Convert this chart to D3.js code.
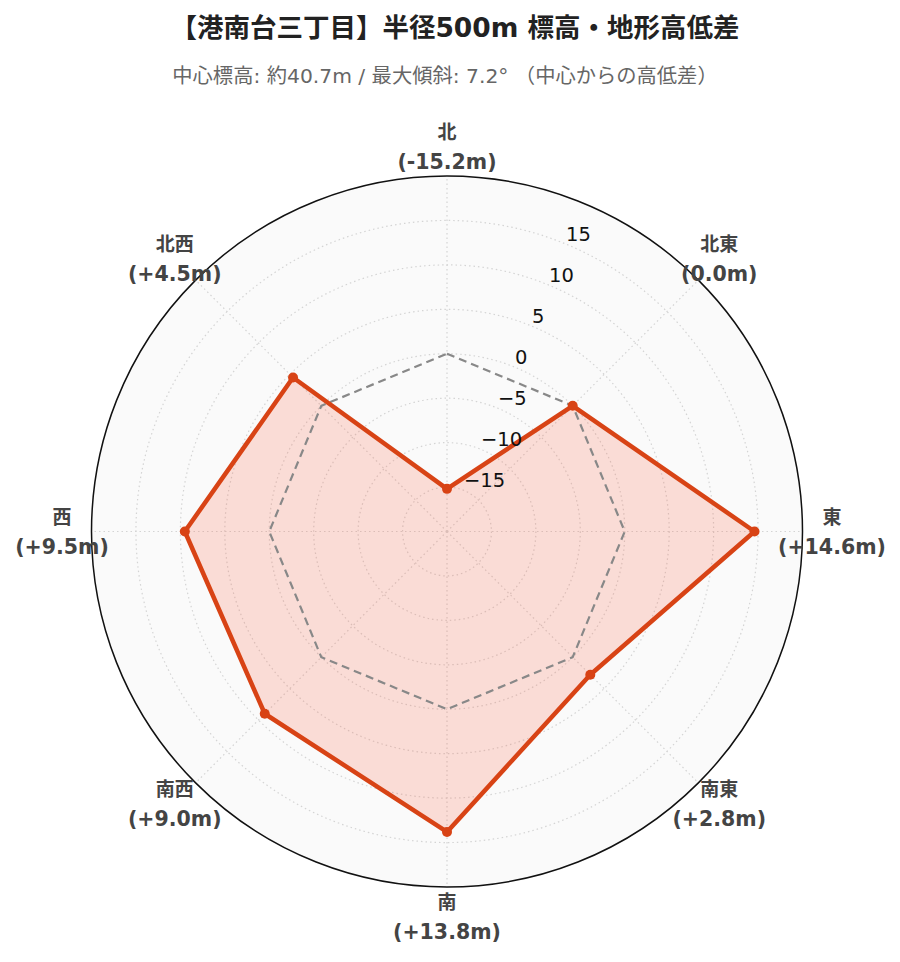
<!DOCTYPE html>
<html><head><meta charset="utf-8">
<script src="https://cdn.jsdelivr.net/npm/d3@7"></script>
<style>body{margin:0;background:#fff;} svg{display:block;font-family:"DejaVu Sans","Noto Sans CJK JP",sans-serif;}</style>
</head><body><svg id="c" width="900" height="962"></svg>
<script>
const directions = ["北","北東","東","南東","南","南西","西","北西"];
const values = [-15.2, 0.0, 14.6, 2.8, 13.8, 9.0, 9.5, 4.5];
const valueLabels = ["(-15.2m)","(0.0m)","(+14.6m)","(+2.8m)","(+13.8m)","(+9.0m)","(+9.5m)","(+4.5m)"];
const referenceValues = [0,0,0,0,0,0,0,0];
const radialTicks = [-15,-10,-5,0,5,10,15];
const radialDomain = [-20, 20];
const title = "【港南台三丁目】半径500m 標高・地形高低差";
const subtitle = "中心標高: 約40.7m / 最大傾斜: 7.2° （中心からの高低差）";

const svg = d3.select("#c");
const cx = 447, cy = 531.5, R = 355.5;
const r = d3.scaleLinear().domain(radialDomain).range([0, R]);
const ang = d3.scaleLinear().domain([0, directions.length]).range([0, 2*Math.PI]);
const pt = (i, v) => { const a = ang(i); return [cx + r(v)*Math.sin(a), cy - r(v)*Math.cos(a)]; };

svg.append("text").attr("x", 455).attr("y", 37).attr("text-anchor","middle")
  .attr("font-size", 26.5).attr("font-weight","bold").attr("fill","#222").text(title);
svg.append("text").attr("x", 445).attr("y", 83).attr("text-anchor","middle")
  .attr("font-size", 20.3).attr("fill","#666").text(subtitle);

const g = svg.append("g");
g.append("circle").attr("cx",cx).attr("cy",cy).attr("r",R).attr("fill","#fafafa");
radialTicks.forEach(t => {
  g.append("circle").attr("cx",cx).attr("cy",cy).attr("r",r(t)).attr("fill","none")
    .attr("stroke","#d4d4d4").attr("stroke-width",1.2).attr("stroke-dasharray","1.5,3");
});
directions.forEach((d,i) => {
  const [x,y] = pt(i, radialDomain[1]);
  g.append("line").attr("x1",cx).attr("y1",cy).attr("x2",x).attr("y2",y)
    .attr("stroke","#d4d4d4").attr("stroke-width",1.2).attr("stroke-dasharray","1.5,3");
});
g.append("circle").attr("cx",cx).attr("cy",cy).attr("r",R).attr("fill","none").attr("stroke","#111").attr("stroke-width",1.5);

const line = d3.lineRadial().angle((d,i)=>ang(i)).radius(d=>r(d)).curve(d3.curveLinearClosed);
const pg = g.append("g").attr("transform",`translate(${cx},${cy})`);
pg.append("path").attr("d", line(values)).attr("fill","rgba(250,100,70,0.2)").attr("stroke","none");
pg.append("path").attr("d", line(referenceValues)).attr("fill","none").attr("stroke","#888")
  .attr("stroke-width",2.2).attr("stroke-dasharray","8,5");
pg.append("path").attr("d", line(values)).attr("fill","none").attr("stroke","#d84315")
  .attr("stroke-width",4.5).attr("stroke-linejoin","round");
values.forEach((v,i) => {
  const [x,y] = pt(i, v);
  g.append("circle").attr("cx",x).attr("cy",y).attr("r",5).attr("fill","#d84315");
});

// radial tick labels along 22.5° axis
const axA = Math.PI/8;
radialTicks.forEach(t => {
  const x = cx + r(t)*Math.sin(axA), y = cy - r(t)*Math.cos(axA);
  g.append("text").attr("x", x).attr("y", y - 3).attr("font-size", 19.5).attr("fill","#111")
    .text(t < 0 ? "\u2212" + Math.abs(t) : String(t));
});

// angular labels
directions.forEach((d,i) => {
  const a = ang(i), L = 385;
  const x = cx + L*Math.sin(a), y = cy - L*Math.cos(a);
  const t = g.append("text").attr("text-anchor","middle")
    .attr("font-weight","bold").attr("fill","#444");
  t.append("tspan").attr("x",x).attr("y",y - 15 + 7).attr("font-size",19).text(d);
  t.append("tspan").attr("x",x).attr("y",y + 15 + 7).attr("font-size",20.5).text(valueLabels[i]);
});
</script></body></html>
